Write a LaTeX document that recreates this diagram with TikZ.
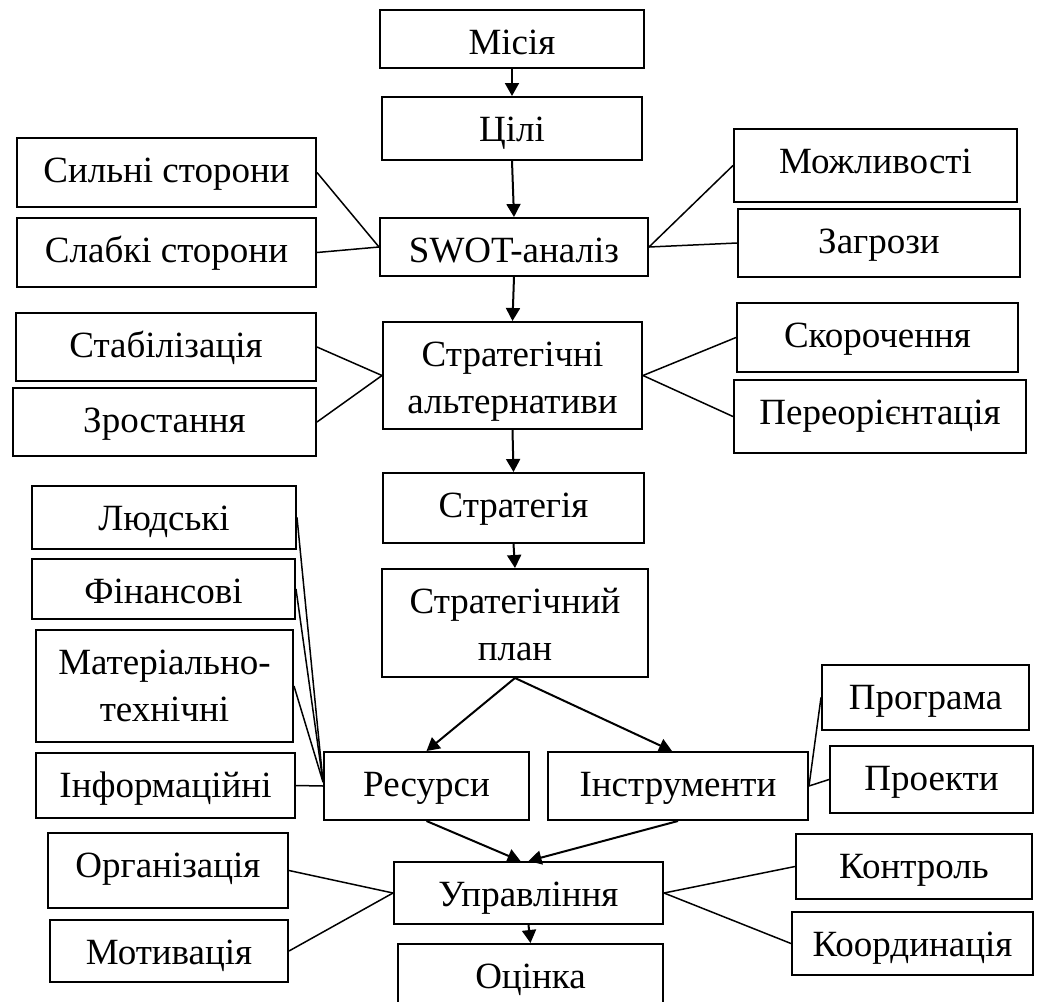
\documentclass[tikz,border=0pt]{standalone}
\usepackage{fontspec}
\setmainfont{Liberation Serif}
\usetikzlibrary{arrows.meta}
\newcommand\bxframe[5]{\node[bx, minimum width={(#4-#2)*0.5pt}, minimum height={(#5-#3)*0.5pt}] (#1) at ({(#2+#4)/2},{(#3+#5)/2}) {};}
\newcommand\bxn[6]{\bxframe{#1}{#2}{#3}{#4}{#5}\node[txt] (#1-t) at ([yshift=-22.5pt]#1.north) {#6};}
\newcommand\bxm[7]{\bxframe{#1}{#2}{#3}{#4}{#5}\node[txt] (#1-t) at ([yshift=-22.5pt]#1.north) {#6};\node[txt] (#1-u) at ([yshift=-46pt]#1.north) {#7};}
\begin{document}
\begin{tikzpicture}[x=0.5pt,y=-0.5pt,
  bx/.style={draw, line width=1pt, inner sep=0pt},
  txt/.style={anchor=base, inner sep=0pt, font=\fontsize{18.5}{23}\selectfont},
  ln/.style={line width=0.75pt},
  arr/.style={line width=1pt, -{Triangle[length=6.5pt,width=7pt]}}]
\path[use as bounding box] (0,0) rectangle (1046,1002);
\clip (0,0) rectangle (1046,1002);
\bxn{mis}{380}{10}{644}{68}{Місія}
\bxn{cil}{382}{97}{642}{160}{Цілі}
\bxn{sil}{17}{138}{316}{207}{Сильні сторони}
\bxn{sla}{17}{218}{316}{287}{Слабкі сторони}
\bxn{swot}{380}{218}{648}{276}{SWOT-аналіз}
\bxn{mozh}{734}{129}{1017}{202}{Можливості}
\bxn{zag}{738}{209}{1020}{277}{Загрози}
\bxn{stab}{16}{313}{316}{381}{Стабілізація}
\bxn{zros}{13}{388}{316}{456}{Зростання}
\bxm{alt}{383}{322}{642}{429}{Стратегічні}{альтернативи}
\bxn{skor}{737}{303}{1018}{372}{Скорочення}
\bxn{pere}{734}{380}{1026}{453}{Переорієнтація}
\bxn{str}{383}{473}{644}{543}{Стратегія}
\bxm{plan}{382}{569}{648}{677}{Стратегічний}{план}
\bxn{lud}{32}{486}{296}{549}{Людські}
\bxn{fin}{32}{559}{295}{619}{Фінансові}
\bxm{mat}{36}{630}{293}{742}{Матеріально-}{технічні}
\bxn{inf}{36}{753}{295}{818}{Інформаційні}
\bxn{res}{324}{752}{529}{820}{Ресурси}
\bxn{ins}{548}{752}{808}{820}{Інструменти}
\bxn{prog}{822}{665}{1029}{730}{Програма}
\bxn{proe}{830}{746}{1033}{813}{Проекти}
\bxn{org}{48}{833}{288}{908}{Організація}
\bxn{mot}{50}{920}{288}{982}{Мотивація}
\bxn{upr}{394}{862}{663}{924}{Управління}
\bxn{kon}{796}{834}{1032}{899}{Контроль}
\bxn{koor}{792}{912}{1033}{975}{Координація}
\bxn{ots}{398}{944}{663}{1015}{Оцінка}
% arrows
\draw[arr] (mis.south) -- (cil.north);
\draw[arr] (cil.south) -- (swot.north);
\draw[arr] (swot.south) -- (alt.north);
\draw[arr] (alt.south) -- (str.north);
\draw[arr] (str.south) -- (plan.north);
\draw[arr] (plan.south) -- (res.north);
\draw[arr] (plan.south) -- ([xshift=-3pt]ins.north);
\draw[arr] (res.south) -- ([xshift=-4pt]upr.north);
\draw[arr] (ins.south) -- (upr.north);
\draw[arr] (upr.south) -- (ots.north);
% plain connectors
\draw[ln] (sil.east) -- (swot.west);
\draw[ln] (sla.east) -- (swot.west);
\draw[ln] (swot.east) -- (mozh.west);
\draw[ln] (swot.east) -- (zag.west);
\draw[ln] (stab.east) -- (alt.west);
\draw[ln] (zros.east) -- (alt.west);
\draw[ln] (alt.east) -- (skor.west);
\draw[ln] (alt.east) -- (pere.west);
\draw[ln] (lud.east) -- ([yshift=2pt]res.west);
\draw[ln] (fin.east) -- ([yshift=2pt]res.west);
\draw[ln] (mat.east) -- ([yshift=2pt]res.west);
\draw[ln] (inf.east) -- (res.west);
\draw[ln] (ins.east) -- (prog.west);
\draw[ln] (ins.east) -- (proe.west);
\draw[ln] (org.east) -- (upr.west);
\draw[ln] (mot.east) -- (upr.west);
\draw[ln] (upr.east) -- (kon.west);
\draw[ln] (upr.east) -- (koor.west);
\end{tikzpicture}
\end{document}
